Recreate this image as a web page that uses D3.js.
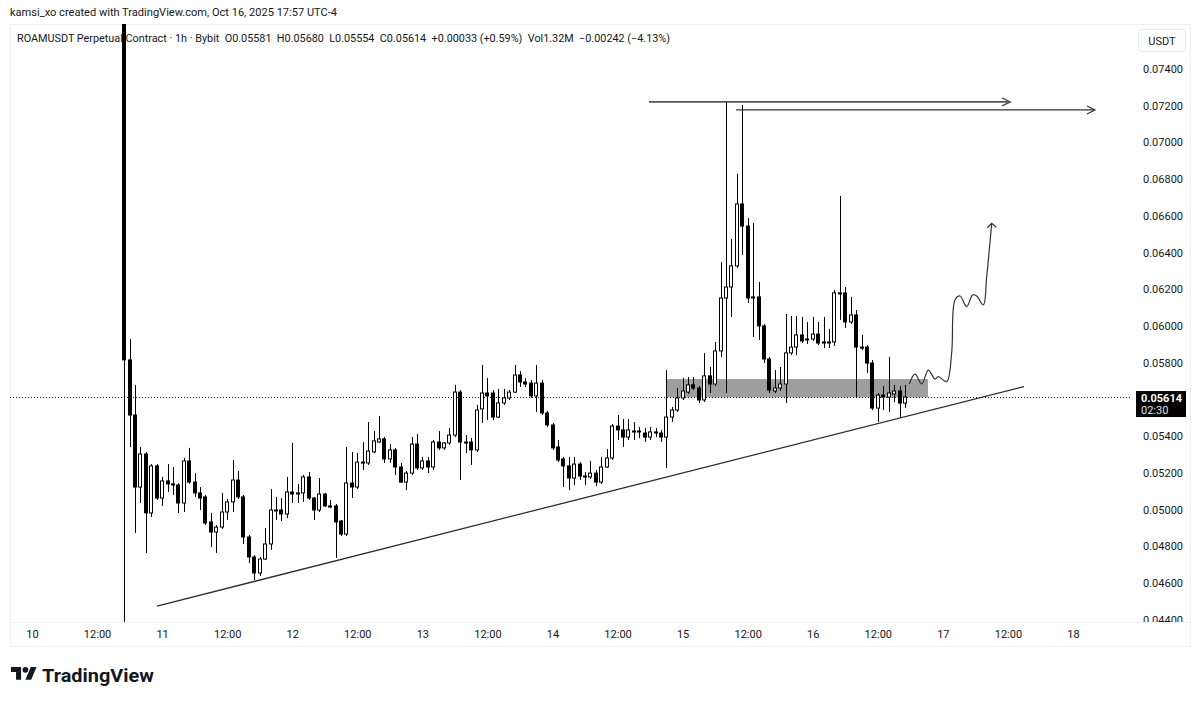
<!DOCTYPE html>
<html><head><meta charset="utf-8">
<script src="https://cdn.jsdelivr.net/npm/d3@7"></script>
<style>
html,body{margin:0;padding:0;background:#fff;}
svg{display:block;font-family:Roboto,"Noto Sans",sans-serif;}
</style></head><body>
<svg id="chart" width="1200" height="702"></svg>
<script>
// ---------- DATA ----------
const firstCandle = Date.UTC(2025, 9, 10, 17); // 10 Oct 17:00 (chart time, UTC-4)
const opens = [0.09000,0.05816,0.05516,0.05124,0.05304,0.04983,0.05239,0.05064,0.05157,0.05141,
0.05135,0.05037,0.05266,0.05151,0.05092,0.05070,0.04934,0.04879,0.04906,0.04988,
0.05043,0.05162,0.05070,0.04852,0.04743,0.04656,0.04732,0.04814,0.04999,0.04999,
0.04977,0.05097,0.05086,0.05092,0.05179,0.05064,0.04999,0.05086,0.05021,0.05021,
0.04939,0.04868,0.05146,0.05124,0.05260,0.05255,0.05315,0.05369,0.05386,0.05277,
0.05326,0.05233,0.05151,0.05200,0.05358,0.05228,0.05266,0.05233,0.05369,0.05337,
0.05364,0.05407,0.05641,0.05369,0.05369,0.05326,0.05549,0.05636,0.05636,0.05505,
0.05582,0.05609,0.05641,0.05734,0.05696,0.05690,0.05620,0.05690,0.05527,0.05462,
0.05342,0.05277,0.05239,0.05173,0.05249,0.05184,0.05179,0.05200,0.05151,0.05233,
0.05282,0.05456,0.05435,0.05396,0.05429,0.05429,0.05418,0.05396,0.05424,0.05418,
0.05396,0.05505,0.05543,0.05609,0.05641,0.05680,0.05663,0.05598,0.05729,0.05685,
0.05865,0.06153,0.06213,0.06328,0.06665,0.06545,0.06153,0.06159,0.06001,0.05821,
0.05647,0.05663,0.05685,0.05854,0.05886,0.05952,0.05925,0.05930,0.05957,0.05914,
0.05908,0.05914,0.06181,0.06181,0.06023,0.06061,0.05886,0.05886,0.05799,0.05554,
0.05625,0.05614,0.05631,0.05647,0.05581];
const highs = [0.09500,0.05930,0.05680,0.05342,0.05315,0.05249,0.05249,0.05179,0.05249,0.05233,
0.05146,0.05282,0.05337,0.05200,0.05124,0.05081,0.04983,0.04917,0.05092,0.05059,
0.05271,0.05211,0.05081,0.04863,0.04754,0.04743,0.04901,0.05113,0.05070,0.05064,
0.05179,0.05364,0.05141,0.05190,0.05206,0.05070,0.05173,0.05092,0.05053,0.05032,
0.04945,0.05342,0.05315,0.05309,0.05369,0.05478,0.05429,0.05511,0.05396,0.05358,
0.05337,0.05255,0.05211,0.05396,0.05413,0.05288,0.05288,0.05380,0.05429,0.05369,
0.05445,0.05680,0.05652,0.05407,0.05391,0.05571,0.05788,0.05718,0.05652,0.05658,
0.05658,0.05652,0.05788,0.05756,0.05718,0.05707,0.05788,0.05707,0.05538,0.05473,
0.05380,0.05288,0.05288,0.05288,0.05260,0.05206,0.05266,0.05217,0.05288,0.05331,
0.05467,0.05516,0.05494,0.05494,0.05478,0.05451,0.05445,0.05451,0.05445,0.05435,
0.05761,0.05560,0.05663,0.05718,0.05723,0.05723,0.05674,0.05854,0.05778,0.05914,
0.06349,0.07221,0.06475,0.06829,0.07204,0.06589,0.06562,0.06240,0.06012,0.05832,
0.05761,0.05778,0.06066,0.06055,0.06055,0.06050,0.06023,0.06050,0.06023,0.06050,
0.05985,0.06197,0.06709,0.06213,0.06159,0.06088,0.05952,0.05897,0.05816,0.05636,
0.05674,0.05832,0.05680,0.05674,0.05680];
const lows = [0.04360,0.05342,0.04874,0.05037,0.04765,0.04961,0.05053,0.05021,0.05097,0.05081,
0.04983,0.04988,0.05141,0.05070,0.04999,0.04917,0.04797,0.04765,0.04896,0.04945,
0.04988,0.05059,0.04814,0.04710,0.04618,0.04640,0.04727,0.04781,0.04945,0.04939,
0.04955,0.05037,0.05037,0.05043,0.05053,0.04945,0.04988,0.05015,0.05010,0.04738,
0.04857,0.04857,0.05064,0.05113,0.05217,0.05244,0.05309,0.05364,0.05255,0.05255,
0.05190,0.05146,0.05108,0.05190,0.05217,0.05217,0.05200,0.05217,0.05326,0.05326,
0.05353,0.05396,0.05162,0.05309,0.05244,0.05315,0.05473,0.05489,0.05489,0.05500,
0.05571,0.05598,0.05636,0.05669,0.05669,0.05609,0.05533,0.05516,0.05451,0.05326,
0.05260,0.05124,0.05108,0.05135,0.05162,0.05135,0.05168,0.05130,0.05141,0.05228,
0.05271,0.05380,0.05342,0.05380,0.05380,0.05391,0.05369,0.05380,0.05396,0.05369,
0.05228,0.05478,0.05533,0.05598,0.05631,0.05652,0.05582,0.05587,0.05636,0.05674,
0.05832,0.05636,0.06050,0.06317,0.06387,0.06126,0.05941,0.05925,0.05799,0.05636,
0.05636,0.05647,0.05582,0.05843,0.05843,0.05908,0.05903,0.05919,0.05897,0.05881,
0.05881,0.05892,0.06034,0.05990,0.06012,0.05609,0.05870,0.05745,0.05543,0.05478,
0.05543,0.05533,0.05587,0.05500,0.05554];
const closes = [0.05816,0.05516,0.05124,0.05304,0.04983,0.05239,0.05064,0.05157,0.05141,0.05135,
0.05037,0.05266,0.05151,0.05092,0.05064,0.04928,0.04879,0.04906,0.04988,0.05043,
0.05162,0.05070,0.04852,0.04743,0.04656,0.04732,0.04814,0.04999,0.04994,0.04977,
0.05097,0.05086,0.05092,0.05179,0.05064,0.04999,0.05086,0.05021,0.05015,0.04934,
0.04868,0.05146,0.05124,0.05260,0.05255,0.05320,0.05375,0.05386,0.05277,0.05326,
0.05233,0.05151,0.05200,0.05358,0.05228,0.05266,0.05233,0.05369,0.05337,0.05364,
0.05407,0.05641,0.05369,0.05364,0.05326,0.05543,0.05636,0.05620,0.05505,0.05582,
0.05609,0.05641,0.05734,0.05696,0.05685,0.05620,0.05690,0.05527,0.05462,0.05337,
0.05271,0.05239,0.05173,0.05249,0.05184,0.05179,0.05200,0.05151,0.05233,0.05282,
0.05456,0.05435,0.05396,0.05435,0.05424,0.05427,0.05396,0.05424,0.05418,0.05396,
0.05505,0.05543,0.05609,0.05647,0.05680,0.05663,0.05598,0.05729,0.05685,0.05865,
0.06153,0.06213,0.06328,0.06665,0.06545,0.06153,0.06159,0.06001,0.05821,0.05652,
0.05663,0.05685,0.05854,0.05886,0.05952,0.05919,0.05930,0.05957,0.05908,0.05908,
0.05914,0.06181,0.06178,0.06023,0.06061,0.05886,0.05881,0.05799,0.05554,0.05625,
0.05614,0.05636,0.05647,0.05581,0.05614];

const priceTicks = [0.044,0.046,0.048,0.050,0.052,0.054,0.058,0.060,0.062,0.064,0.066,0.068,0.070,0.072,0.074];
const timeTickHours = [0,12,24,36,48,60,72,84,96,108,120,132,144,156,168,180,192]; // hours since 10 Oct 00:00
const timeTickLabels = ["10","12:00","11","12:00","12","12:00","13","12:00","14","12:00","15","12:00","16","12:00","17","12:00","18"];

// annotations in [hours since 10 Oct 00:00, price]
const trendLine = [[23.05,0.04476],[182.96,0.05671]];
const highLine1 = [[113.8,0.07221],[180.4,0.07221]];
const highLine2 = [[129.84,0.07177],[196.05,0.07177]];
const zoneTimes = [117.1,165.25];
const zonePrices = [0.05712,0.05612];
const projection = [[161.80,0.05685],[162.86,0.05739],[164.09,0.05685],[165.31,0.05761],[166.54,0.05712],
[167.15,0.05725],[168.70,0.05698],[169.62,0.05854],[170.23,0.06142],[171.16,0.06164],[172.39,0.06106],
[173.50,0.06170],[174.24,0.06164],[175.46,0.06115],[176.08,0.06269],[177.01,0.06560]];

const headerText = "kamsi_xo created with TradingView.com, Oct 16, 2025 17:57 UTC-4";
const legendText = "ROAMUSDT Perpetual Contract · 1h · Bybit  O0.05581  H0.05680  L0.05554  C0.05614  +0.00033 (+0.59%)  Vol1.32M  \u22120.00242 (\u22124.13%)";
const lastPrice = 0.05614;
const countdown = "02:30";

// ---------- LAYOUT ----------
const W = 1200, H = 702;
const pane = {l:10, r:1130, t:24, b:622};
const svg = d3.select("#chart");
const day0 = Date.UTC(2025,9,10);
const x = d3.scaleUtc().domain([new Date(day0), new Date(Date.UTC(2025,9,18))]).range([32,1073]);
const y = d3.scaleLinear().domain([0.044,0.074]).range([620,69]);
const hx = h => x(new Date(day0 + h*3600e3));

const candles = opens.map((o,i)=>({t:new Date(firstCandle + i*3600e3), o, h:highs[i], l:lows[i], c:closes[i]}));

const defs = svg.append("defs");
defs.append("clipPath").attr("id","paneClip").append("rect")
  .attr("x",pane.l).attr("y",pane.t).attr("width",pane.r-pane.l).attr("height",pane.b-pane.t);
defs.append("clipPath").attr("id","axisClip").append("rect")
  .attr("x",pane.r).attr("y",pane.t).attr("width",70).attr("height",pane.b-pane.t);

// frame
svg.append("rect").attr("x",pane.l+0.5).attr("y",pane.t+0.5).attr("width",1190-pane.l).attr("height",646-pane.t)
  .attr("fill","none").attr("stroke","#eef0f3");
svg.append("line").attr("x1",pane.l).attr("x2",1190).attr("y1",pane.b+0.5).attr("y2",pane.b+0.5).attr("stroke","#f0f1f4");

// header text
svg.append("text").attr("x",10).attr("y",16).attr("font-size",11).attr("fill","#131722")
  .attr("textLength",327).attr("lengthAdjust","spacingAndGlyphs").text(headerText);

const plot = svg.append("g").attr("clip-path","url(#paneClip)");

// zone box (beneath candles)
plot.append("rect")
  .attr("x",hx(zoneTimes[0])).attr("width",hx(zoneTimes[1])-hx(zoneTimes[0]))
  .attr("y",y(zonePrices[0])).attr("height",y(zonePrices[1])-y(zonePrices[0]))
  .attr("fill","#9e9e9e");

// last price dotted line
plot.append("line").attr("x1",pane.l).attr("x2",pane.r)
  .attr("y1",Math.round(y(lastPrice))+0.5).attr("y2",Math.round(y(lastPrice))+0.5)
  .attr("stroke","#131722").attr("stroke-dasharray","1,2");

// candles
const bw = 4;
const cg = plot.append("g");
cg.selectAll("line.wick").data(candles).join("line")
  .attr("x1",d=>Math.round(x(d.t))+0.5).attr("x2",d=>Math.round(x(d.t))+0.5)
  .attr("y1",d=>y(d.h)).attr("y2",d=>y(d.l))
  .attr("stroke","#000").attr("stroke-width",1);
cg.selectAll("rect.body").data(candles).join("rect")
  .attr("x",d=>Math.round(x(d.t))-1.5).attr("width",bw-1)
  .attr("y",d=>y(Math.max(d.o,d.c))).attr("height",d=>Math.max(1,y(Math.min(d.o,d.c))-y(Math.max(d.o,d.c))))
  .attr("fill",d=>d.c>=d.o?"#fff":"#000").attr("stroke","#000").attr("stroke-width",1);

// trend line
const lineGen = d3.line().x(d=>hx(d[0])).y(d=>y(d[1]));
plot.append("path").attr("d",lineGen(trendLine)).attr("fill","none").attr("stroke","#2b2b2b").attr("stroke-width",1.3);

// horizontal arrows
function arrowLine(pts, color, w){
  plot.append("path").attr("d",lineGen(pts)).attr("fill","none").attr("stroke",color).attr("stroke-width",w);
  const ex = hx(pts[1][0]), ey = y(pts[1][1]);
  plot.append("path").attr("d",`M${ex-8},${ey-4}L${ex},${ey}L${ex-8},${ey+4}`)
    .attr("fill","none").attr("stroke",color).attr("stroke-width",w);
}
arrowLine(highLine1,"#555",1.6);
arrowLine(highLine2,"#333",1.2);

// projection curve
const curveGen = d3.line().x(d=>hx(d[0])).y(d=>y(d[1])).curve(d3.curveCatmullRom.alpha(0.5));
plot.append("path").attr("d",curveGen(projection)).attr("fill","none").attr("stroke","#333").attr("stroke-width",1.2);
{
  const tip = projection[projection.length-1];
  const tx = hx(tip[0]), ty = y(tip[1]);
  plot.append("path").attr("d",`M${tx-4.5},${ty+4.5}L${tx},${ty}L${tx+4.5},${ty+4}`)
    .attr("fill","none").attr("stroke","#333").attr("stroke-width",1.2);
}

// legend (drawn over the chart)
svg.append("text").attr("x",17).attr("y",42).attr("font-size",11).attr("fill","#131722")
  .style("white-space","pre").attr("textLength",653).attr("lengthAdjust","spacingAndGlyphs").text(legendText);

// price axis
const pax = svg.append("g").attr("clip-path","url(#axisClip)");
pax.selectAll("text.tick").data(priceTicks).join("text")
  .attr("x",1163).attr("y",d=>y(d)).attr("dy","0.35em").attr("text-anchor","middle")
  .attr("font-size",11).attr("fill","#131722").text(d=>d3.format(".5f")(d));

// USDT box
svg.append("rect").attr("x",1138.5).attr("y",29.5).attr("width",47).attr("height",22).attr("rx",3)
  .attr("fill","#fff").attr("stroke","#e6e8ec");
svg.append("text").attr("x",1162).attr("y",41).attr("dy","0.35em").attr("text-anchor","middle")
  .attr("font-size",11).attr("fill","#131722").text("USDT");

// last price label
{
  const ly = y(lastPrice);
  svg.append("rect").attr("x",1136).attr("y",ly-6).attr("width",50).attr("height",26).attr("fill","#000");
  svg.append("text").attr("x",1141).attr("y",ly+1).attr("dy","0.35em").attr("font-size",11).attr("font-weight",700)
    .attr("fill","#fff").text(d3.format(".5f")(lastPrice));
  svg.append("text").attr("x",1141).attr("y",ly+13).attr("dy","0.35em").attr("font-size",11)
    .attr("fill","#e0e0e0").text(countdown);
}

// time axis
const tAxis = d3.axisBottom(x)
  .tickValues(timeTickHours.map(h=>new Date(day0+h*3600e3)))
  .tickFormat((d,i)=>timeTickLabels[i]).tickSize(0).tickPadding(0);
const tg = svg.append("g").attr("transform",`translate(0,${pane.b})`).call(tAxis);
tg.select(".domain").remove();
tg.selectAll("text").attr("y",12).attr("dy","0.35em").attr("font-size",11).attr("fill","#131722")
  .attr("font-family","Roboto,'Noto Sans',sans-serif");

// TradingView logo
const logo = svg.append("g").attr("transform","translate(11,664) scale(0.72)").attr("fill","#131722");
logo.append("path").attr("d","M14 22H7V11H0V4h14v18zM28 22h-8l7.5-18h8L28 22z");
logo.append("circle").attr("cx",20).attr("cy",8).attr("r",4);
svg.append("text").attr("x",42).attr("y",682).attr("font-size",19).attr("font-weight",700).attr("fill","#131722")
  .attr("textLength",112).attr("lengthAdjust","spacingAndGlyphs").text("TradingView");
</script>
</body></html>
